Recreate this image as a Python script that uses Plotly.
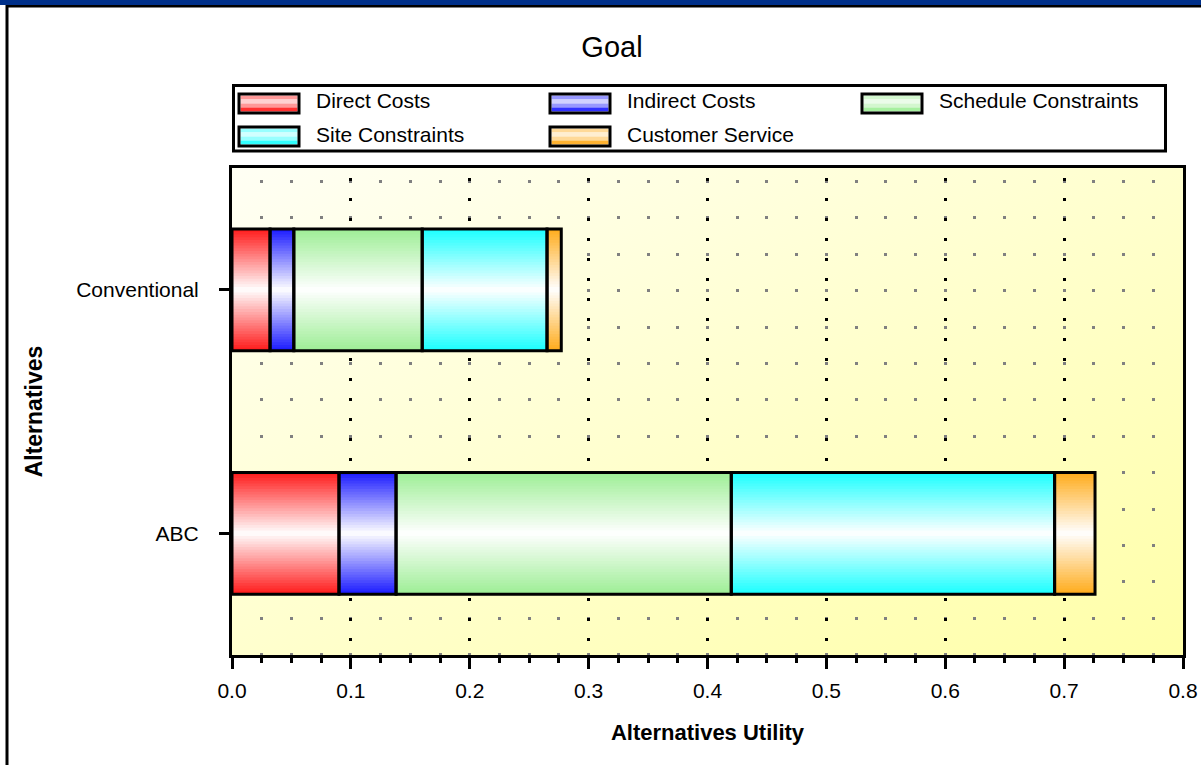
import base64
import plotly.graph_objects as go

# ---- data -------------------------------------------------------------
alternatives = ["ABC", "Conventional"]
criteria = ["Direct Costs", "Indirect Costs", "Schedule Constraints",
            "Site Constraints", "Customer Service"]
direct_costs = [0.090, 0.032]
indirect_costs = [0.048, 0.020]
schedule_constraints = [0.282, 0.108]
site_constraints = [0.272, 0.105]
customer_service = [0.034, 0.012]
x_tick_values = [0.0, 0.1, 0.2, 0.3, 0.4, 0.5, 0.6, 0.7, 0.8]

series = [direct_costs, indirect_costs, schedule_constraints,
          site_constraints, customer_service]

# ---- style ------------------------------------------------------------
base_colors = ["#FF1A1A", "#1A1AFF", "#9DEE95", "#1AFFFF", "#FFAB1A"]
FONT = "Liberation Sans, Arial, sans-serif"
W, H = 1201, 765
L, R, T, B = 232, 18, 168, 110
PW, PH = W - L - R, H - T - B
BAR_W = 0.5
LAYERS = 22


def hex_rgb(c):
    c = c.lstrip("#")
    return tuple(int(c[i:i + 2], 16) for i in (0, 2, 4))


def mix_white(c, f):
    r, g, b = hex_rgb(c)
    return "rgb(%d,%d,%d)" % (round(r + (255 - r) * f),
                              round(g + (255 - g) * f),
                              round(b + (255 - b) * f))


def px_x(px):
    return (px - L) / PW


def px_y(py):
    return (H - B - py) / PH


fig = go.Figure()

# stacked segment starts
bases = []
running = [0.0] * len(alternatives)
for vals in series:
    bases.append(list(running))
    running = [a + b for a, b in zip(running, vals)]

# gradient fills: narrower, lighter bars layered toward the bar centre
for vals, start, col in zip(series, bases, base_colors):
    for k in range(LAYERS):
        fig.add_trace(go.Bar(
            y=alternatives, x=vals, base=start, orientation="h",
            width=BAR_W * (1 - k / LAYERS),
            marker=dict(color=mix_white(col, (k + 0.5) / LAYERS),
                        line=dict(width=0)),
            showlegend=False, hoverinfo="skip"))

# black outlines on every segment
for name, vals, start in zip(criteria, series, bases):
    fig.add_trace(go.Bar(
        y=alternatives, x=vals, base=start, orientation="h", width=BAR_W,
        name=name,
        marker=dict(color="rgba(0,0,0,0)", line=dict(color="black", width=3)),
        showlegend=False,
        hovertemplate="%{y}: %{x:.3f}<extra>" + name + "</extra>"))

# ---- plot background gradient -----------------------------------------
svg = ("<svg xmlns='http://www.w3.org/2000/svg' width='%d' height='%d' "
       "preserveAspectRatio='none'><defs><linearGradient id='g' x1='0' y1='0' "
       "x2='1' y2='1'><stop offset='0' stop-color='#FFFFF4'/>"
       "<stop offset='1' stop-color='#FFFFA8'/></linearGradient></defs>"
       "<rect width='100%%' height='100%%' fill='url(#g)'/></svg>") % (PW, PH)
bg_src = "data:image/svg+xml;base64," + base64.b64encode(svg.encode()).decode()

shapes = []
annotations = []

# window frame: blue strip on top, black rules
shapes.append(dict(type="rect", xref="paper", yref="paper",
                   x0=px_x(0), x1=px_x(W), y0=px_y(0), y1=px_y(5),
                   fillcolor="#00308A", line=dict(width=0), layer="above"))
shapes.append(dict(type="rect", xref="paper", yref="paper",
                   x0=px_x(6), x1=px_x(W), y0=px_y(5), y1=px_y(7.5),
                   fillcolor="black", line=dict(width=0), layer="above"))
shapes.append(dict(type="rect", xref="paper", yref="paper",
                   x0=px_x(5.5), x1=px_x(8.5), y0=px_y(5), y1=px_y(H),
                   fillcolor="black", line=dict(width=0), layer="above"))

# ---- legend box -------------------------------------------------------
shapes.append(dict(type="rect", xref="paper", yref="paper",
                   x0=px_x(233.5), x1=px_x(1165.5), y0=px_y(85.5), y1=px_y(151),
                   fillcolor="white", line=dict(color="black", width=3),
                   layer="above"))
legend_pos = [(239, 94), (550, 94), (862, 94), (239, 127), (550, 127)]
band_mix = [0.55, 0.8, 0.55, 0.1]
for name, col, (sx, sy) in zip(criteria, base_colors, legend_pos):
    sw, sh = 60, 19
    inner_top = sy + 1.5
    band_h = (sh - 3) / len(band_mix)
    for i, f in enumerate(band_mix):
        shapes.append(dict(type="rect", xref="paper", yref="paper",
                           x0=px_x(sx + 1.5), x1=px_x(sx + sw - 1.5),
                           y0=px_y(inner_top + i * band_h),
                           y1=px_y(inner_top + (i + 1) * band_h),
                           fillcolor=mix_white(col, f), line=dict(width=0),
                           layer="above"))
    shapes.append(dict(type="rect", xref="paper", yref="paper",
                       x0=px_x(sx), x1=px_x(sx + sw), y0=px_y(sy), y1=px_y(sy + sh),
                       line=dict(color="black", width=3), layer="above"))
    annotations.append(dict(text=name, xref="paper", yref="paper",
                            x=px_x(sx + 75), y=px_y(sy + 7), xanchor="left",
                            yanchor="middle", showarrow=False,
                            font=dict(family=FONT, size=21, color="black")))

fig.update_layout(
    width=W, height=H,
    margin=dict(l=L, r=R, t=T, b=B, pad=0),
    paper_bgcolor="white", plot_bgcolor="rgba(0,0,0,0)",
    barmode="overlay", showlegend=False,
    font=dict(family=FONT, color="black"),
    title=dict(text="Goal", x=612 / W, xref="container", xanchor="center",
               y=1 - 47 / H, yref="container", yanchor="middle",
               font=dict(family=FONT, size=29, color="black")),
    images=[dict(source=bg_src, xref="paper", yref="paper", x=0, y=1,
                 sizex=1, sizey=1, xanchor="left", yanchor="top",
                 sizing="stretch", layer="below")],
    shapes=shapes, annotations=annotations,
    xaxis=dict(
        range=[0, 0.8], tickvals=x_tick_values, tickformat=".1f",
        showline=True, linecolor="black", linewidth=3, mirror=True,
        ticks="outside", ticklen=11, tickwidth=3, tickcolor="black",
        showgrid=True, gridcolor="black", gridwidth=3,
        griddash="0px,10px,3px,7px",
        minor=dict(dtick=0.025, tick0=0, ticks="outside", ticklen=5,
                   tickwidth=3, tickcolor="black", showgrid=True,
                   gridcolor="#808080", gridwidth=2.5,
                   griddash="0px,12px,3px,21.4px"),
        zeroline=False, automargin=False, fixedrange=True,
        tickfont=dict(family=FONT, size=21, color="black"),
        ticklabelstandoff=4,
        title=dict(text="<b>Alternatives Utility</b>", standoff=24,
                   font=dict(family=FONT, size=22, color="black")),
    ),
    yaxis=dict(
        type="category", categoryorder="array", categoryarray=alternatives,
        range=[-0.5, 1.5],
        showline=True, linecolor="black", linewidth=3, mirror=True,
        ticks="outside", ticklen=10, tickwidth=3, tickcolor="black",
        showgrid=False, zeroline=False, automargin=False, fixedrange=True,
        tickfont=dict(family=FONT, size=21, color="black"),
        ticklabelstandoff=16,
        title=dict(text="<b>Alternatives</b>", standoff=28,
                   font=dict(family=FONT, size=23, color="black")),
    ),
    # inner tick marks on the frame
    xaxis2=dict(overlaying="x", side="top", anchor="y", range=[0, 0.8],
                tickvals=x_tick_values, ticks="inside", ticklen=10,
                tickwidth=3, tickcolor="black",
                minor=dict(dtick=0.025, tick0=0, ticks="inside", ticklen=4,
                           tickwidth=2, tickcolor="black"),
                showticklabels=False, showgrid=False, showline=False,
                zeroline=False, fixedrange=True),
    xaxis3=dict(overlaying="x", side="bottom", anchor="y", range=[0, 0.8],
                tickvals=x_tick_values, ticks="inside", ticklen=12,
                tickwidth=3, tickcolor="black",
                minor=dict(dtick=0.025, tick0=0, ticks="inside", ticklen=4,
                           tickwidth=3, tickcolor="black"),
                showticklabels=False, showgrid=False, showline=False,
                zeroline=False, fixedrange=True),
    yaxis2=dict(overlaying="y", side="left", anchor="x", range=[-0.5, 1.5],
                tickvals=[0, 1], ticks="inside", ticklen=10, tickwidth=3,
                tickcolor="black", showticklabels=False, showgrid=False,
                showline=False, zeroline=False, fixedrange=True),
    yaxis3=dict(overlaying="y", side="right", anchor="x", range=[-0.5, 1.5],
                tickvals=[0, 1], ticks="inside", ticklen=6, tickwidth=3,
                tickcolor="black", showticklabels=False, showgrid=False,
                showline=False, zeroline=False, fixedrange=True),
)

fig.write_html("out.html")
